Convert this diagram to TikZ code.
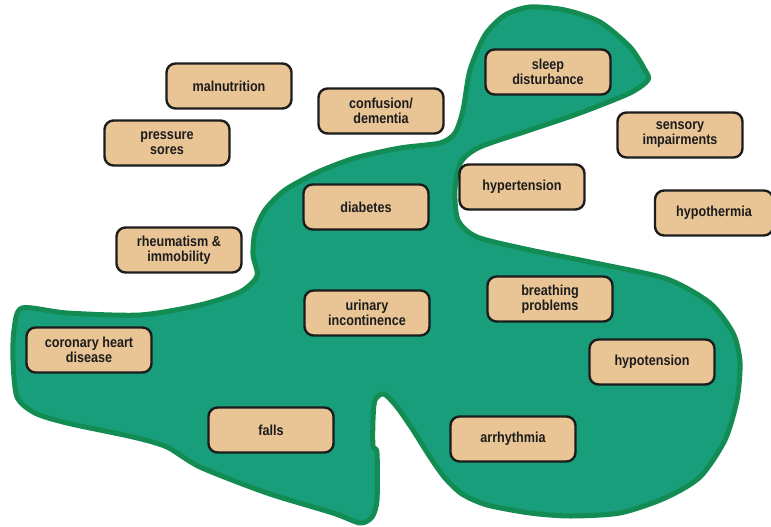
\documentclass[tikz,border=0pt]{standalone}
\usepackage{fontspec}
\newfontfamily\boxfont{Liberation Sans}[FakeStretch=0.87]
\definecolor{blobfill}{RGB}{24,158,122}
\definecolor{blobedge}{RGB}{18,140,82}
\definecolor{tan}{RGB}{233,197,150}
\definecolor{ink}{RGB}{28,28,28}
\tikzset{
  factor/.style={draw=ink, fill=tan, line width=2.4pt, rounded corners=9pt,
    minimum width=125pt, minimum height=45pt, align=center, inner sep=2pt,
    text=ink, font=\boxfont\bfseries\fontsize{14.5}{15}\selectfont},
  region/.style={fill=blobfill, draw=blobedge, line width=5pt, line join=round}
}
\begin{document}
\begin{tikzpicture}[x=1pt, y=-1pt]
  \useasboundingbox (0,0) rectangle (771,527);
  % shared region of overlapping conditions
  \draw[region] plot[smooth cycle, tension=0.45] coordinates {
    (22,308) (67,313) (140,315) (200,305) (240,292) (257,276) (253,255)
    (255,232) (265,210) (285,190) (318,172) (355,158) (400,148) (440,143)
    (455,133) (463,110) (470,70) (485,35) (505,15) (530,7) (565,10)
    (600,22) (630,47) (645,70) (648,80) (630,93) (580,113) (530,130)
    (480,147) (461,162) (455,190) (458,220) (477,237) (530,250) (600,264)
    (667,279) (710,303) (733,333) (740,362) (737,400) (725,440) (700,477)
    (665,498) (620,513) (570,516) (530,513) (487,505) (462,494) (445,478)
    (430,457) (413,430) (397,407) (384,394) (375,400) (373,420) (373,446)
    (377,453) (377,500) (372,517) (360,523) (333,513) (267,493) (200,467)
    (167,447) (133,437) (67,423) (35,413) (17,397) (13,360) (14,330)
  };
  % conditions
  \node[factor] (maln)  at (229,86)  {malnutrition};
  \node[factor] (press) at (167,143) {pressure\\sores};
  \node[factor] (conf)  at (381,111) {confusion/\\dementia};
  \node[factor] (diab)  at (366,207) {diabetes};
  \node[factor] (rheum) at (179,250) {rheumatism \&\\immobility};
  \node[factor] (sleep) at (548,72)  {sleep\\disturbance};
  \node[factor] (sens)  at (680,135) {sensory\\impairments};
  \node[factor] (hyper) at (522,187) {hypertension};
  \node[factor, minimum width=118pt] (therm) at (714,213) {hypothermia};
  \node[factor] (chd)   at (89,350)  {coronary heart\\disease};
  \node[factor] (urin)  at (367,313) {urinary\\incontinence};
  \node[factor] (falls) at (271,430) {falls};
  \node[factor] (breath) at (550,299) {breathing\\problems};
  \node[factor] (hypo)  at (652,362) {hypotension};
  \node[factor] (arrh)  at (513,439) {arrhythmia};
\end{tikzpicture}
\end{document}
